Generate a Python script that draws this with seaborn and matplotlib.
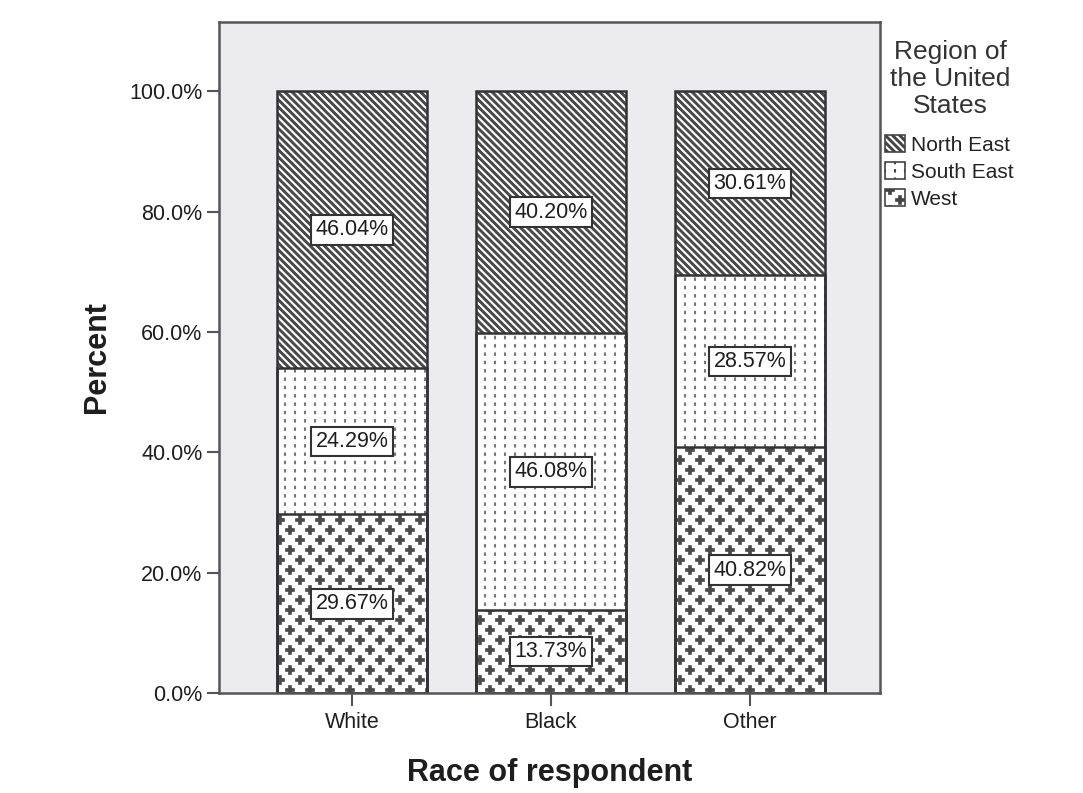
import numpy as np
import pandas as pd
import matplotlib
matplotlib.use('Agg')
import matplotlib.pyplot as plt
import matplotlib.hatch as mhatch
import matplotlib.patches as mpatches
from matplotlib.path import Path
from matplotlib.ticker import FuncFormatter
import seaborn as sns

# ---------------- data ----------------
races = ['White', 'Black', 'Other']
regions = ['North East', 'South East', 'West']
north_east = [46.04, 40.20, 30.61]
south_east = [24.29, 46.08, 28.57]
west = [29.67, 13.73, 40.82]
y_ticks = [0, 20, 40, 60, 80, 100]
legend_title = 'Region of\nthe United\nStates'
x_label = 'Race of respondent'
y_label = 'Percent'


# ---------------- custom hatch patterns ----------------
def _closed_polys(polys):
    n = polys.shape[1]
    sc = np.full(n, Path.LINETO, dtype=Path.code_type)
    sc[0] = Path.MOVETO
    sc[-1] = Path.CLOSEPOLY
    return polys.reshape(-1, 2), np.tile(sc, polys.shape[0])


class DiagHatch(mhatch.HatchPatternBase):
    """Dense '\\' diagonal stripes (filled bands)."""
    def __init__(self, hatch, density):
        self.m = hatch.count('\\') * 7
        self.num_vertices = (2 * self.m + 1) * 5 if self.m else 0

    def set_vertices_and_codes(self, vertices, codes):
        c = np.arange(2 * self.m + 1) / self.m
        w = 0.006
        polys = np.stack([
            np.stack([c - w - 1, np.ones_like(c)], axis=1),
            np.stack([c + w - 1, np.ones_like(c)], axis=1),
            np.stack([c + w, np.zeros_like(c)], axis=1),
            np.stack([c - w, np.zeros_like(c)], axis=1),
            np.stack([c - w - 1, np.ones_like(c)], axis=1)], axis=1)
        v, cd = _closed_polys(polys)
        vertices[:] = v
        codes[:] = cd


class DashHatch(mhatch.HatchPatternBase):
    """Dotted vertical lines (triggered by 'O')."""
    def __init__(self, hatch, density):
        n = hatch.count('O')
        self.nc = 10 * n
        self.nr = 12 * n
        self.num_vertices = self.nc * self.nr * 2

    def set_vertices_and_codes(self, vertices, codes):
        xs = (np.arange(self.nc) + 0.5) / self.nc
        ys = (np.arange(self.nr) + 0.5) / self.nr
        X, Y = np.meshgrid(xs, ys)
        X = X.ravel()
        Y = Y.ravel()
        h = 0.007
        vertices[0::2, 0] = X
        vertices[0::2, 1] = Y - h
        vertices[1::2, 0] = X
        vertices[1::2, 1] = Y + h
        codes[0::2] = Path.MOVETO
        codes[1::2] = Path.LINETO


class PlusHatch(mhatch.HatchPatternBase):
    """Lattice of small filled plus signs (triggered by '*')."""
    def __init__(self, hatch, density):
        self.n = 5 * hatch.count('*')
        centers = []
        if self.n:
            nr = 2 * self.n
            for r in range(nr + 1):
                y = r / nr
                if r % 2 == 0:
                    xs = np.arange(self.n + 1) / self.n
                else:
                    xs = (np.arange(self.n) + 0.5) / self.n
                centers += [(x, y) for x in xs]
        self.centers = np.array(centers).reshape(-1, 2)
        self.num_vertices = len(self.centers) * 13

    def set_vertices_and_codes(self, vertices, codes):
        a, b = 0.038, 0.008
        shape = np.array([(-b, -a), (b, -a), (b, -b), (a, -b), (a, b), (b, b),
                          (b, a), (-b, a), (-b, b), (-a, b), (-a, -b), (-b, -b),
                          (-b, -a)])
        polys = self.centers[:, None, :] + shape[None, :, :]
        v, cd = _closed_polys(polys)
        vertices[:] = v
        codes[:] = cd


mhatch._hatch_types[:] = [mhatch.HorizontalHatch, mhatch.VerticalHatch,
                          mhatch.NorthEastHatch, DiagHatch, DashHatch, PlusHatch]

# ---------------- style ----------------
sns.set_theme(style='white')
plt.rcParams['font.family'] = ['Liberation Sans', 'DejaVu Sans']
plt.rcParams['hatch.linewidth'] = 1.5

df = pd.DataFrame({'race': races, 'North East': north_east,
                   'South East': south_east, 'West': west})
df['top_we'] = df['West']
df['top_se'] = df['West'] + df['South East']
df['top_ne'] = df['top_se'] + df['North East']

fig = plt.figure(figsize=(10.83, 7.93), dpi=100, facecolor='white')
ax = fig.add_axes([219 / 1083, 1 - 693 / 793, 661 / 1083, 671 / 793])
ax.set_facecolor('#ececf0')

layers = [('top_ne', '\\\\', '#4a4a4a'),
          ('top_se', 'O', '#777777'),
          ('top_we', '*', '#4a4a4a')]
for col, h, hc in layers:
    sns.barplot(data=df, x='race', y=col, order=races, color='white',
                saturation=1, width=0.75, errorbar=None, hatch=h,
                edgecolor=hc, linewidth=0, ax=ax)
for col, h, hc in layers:
    sns.barplot(data=df, x='race', y=col, order=races, fill=False,
                color='#333333', linewidth=1.8, width=0.75, errorbar=None, ax=ax)

# segment labels
box = dict(boxstyle='square,pad=0.2', fc='white', ec='#333333', lw=1.5)
for i in range(len(races)):
    segs = [(west[i], 0.0),
            (south_east[i], west[i]),
            (north_east[i], west[i] + south_east[i])]
    for val, bottom in segs:
        ax.text(i, bottom + val / 2, f'{val:.2f}%', ha='center', va='center',
                fontsize=15.5, color='#1e1e1e', bbox=box)

ax.set_ylim(0, 111.5)
ax.set_xlim(-0.668, 2.653)
ax.set_yticks(y_ticks)
ax.yaxis.set_major_formatter(FuncFormatter(lambda v, p: f'{v:.1f}%'))
ax.set_xticks(range(len(races)))
ax.set_xticklabels(races)
ax.tick_params(axis='both', which='major', direction='out', length=9, width=1.5,
               color='#555555', labelsize=15.5, labelcolor='#1e1e1e',
               left=True, bottom=True)
ax.tick_params(axis='x', pad=5)
ax.tick_params(axis='y', pad=3)
for s in ax.spines.values():
    s.set_visible(True)
    s.set_color('#555555')
    s.set_linewidth(1.8)

ax.set_xlabel(x_label, fontsize=22, fontweight='bold', color='#1e1e1e', labelpad=18)
ax.set_ylabel(y_label, fontsize=22, fontweight='bold', color='#1e1e1e', labelpad=12)

# legend title as centered multi-line text
fig.text(950 / 1083, 1 - 40 / 793, legend_title, ha='center', va='top',
         multialignment='center', fontsize=19, linespacing=1.15, color='#333333')

handles = [mpatches.Patch(facecolor='white', edgecolor='#444444', hatch=h, lw=1.2)
           for _, h, _ in layers]
leg = fig.legend(handles, regions, loc='upper left',
                 bbox_to_anchor=(885 / 1083, 1 - 135 / 793), frameon=False,
                 fontsize=15, handlelength=0.96, handleheight=0.85,
                 handletextpad=0.3, labelspacing=0.36,
                 borderpad=0, borderaxespad=0)
for t in leg.get_texts():
    t.set_color('#222222')

fig.savefig('out.png', dpi=100, facecolor='white')
